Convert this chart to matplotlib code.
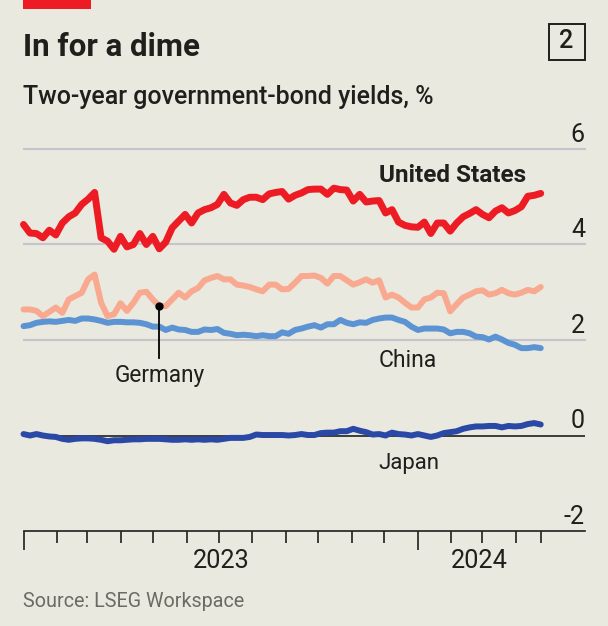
import pandas as pd
import matplotlib.pyplot as plt
import matplotlib.dates as mdates
from matplotlib.patches import Rectangle

# Yields, 81 evenly spaced points
dates = pd.date_range("2023-01-01", "2024-04-24", periods=81)
united_states = [
    4.42, 4.24, 4.23, 4.14, 4.30, 4.20, 4.45, 4.58, 4.66, 4.84,
    4.95, 5.09, 4.14, 4.07, 3.90, 4.17, 3.95, 4.00, 4.23, 4.00,
    4.17, 3.91, 4.05, 4.35, 4.49, 4.63, 4.45, 4.66, 4.73, 4.77,
    4.84, 5.05, 4.87, 4.82, 4.94, 4.99, 4.99, 4.94, 5.06, 5.09,
    5.11, 4.95, 5.03, 5.08, 5.15, 5.16, 5.16, 5.05, 5.18, 5.15,
    5.14, 4.91, 5.05, 4.89, 4.91, 4.92, 4.66, 4.73, 4.47, 4.40,
    4.37, 4.36, 4.47, 4.23, 4.45, 4.45, 4.28, 4.45, 4.58, 4.65,
    4.73, 4.63, 4.56, 4.70, 4.77, 4.66, 4.71, 4.79, 5.01, 5.03,
    5.07,
]
germany = [
    2.64, 2.64, 2.61, 2.50, 2.59, 2.68, 2.57, 2.85, 2.92, 2.99,
    3.27, 3.37, 2.78, 2.50, 2.54, 2.77, 2.61, 2.78, 2.99, 3.01,
    2.85, 2.71, 2.71, 2.85, 2.99, 2.89, 3.02, 3.09, 3.25, 3.30,
    3.34, 3.27, 3.27, 3.16, 3.14, 3.11, 3.06, 3.02, 3.16, 3.16,
    3.06, 3.07, 3.20, 3.34, 3.34, 3.35, 3.30, 3.18, 3.34, 3.34,
    3.25, 3.16, 3.21, 3.27, 3.20, 3.25, 2.89, 2.95, 2.89, 2.78,
    2.68, 2.68, 2.85, 2.89, 2.99, 2.98, 2.60, 2.75, 2.89, 2.95,
    3.02, 3.04, 2.95, 2.98, 3.05, 2.98, 2.95, 2.99, 3.05, 3.02,
    3.11,
]
china = [
    2.29, 2.31, 2.36, 2.38, 2.39, 2.38, 2.40, 2.42, 2.40, 2.45,
    2.45, 2.43, 2.40, 2.36, 2.38, 2.38, 2.37, 2.37, 2.36, 2.33,
    2.28, 2.28, 2.21, 2.26, 2.22, 2.21, 2.17, 2.17, 2.22, 2.21,
    2.23, 2.15, 2.13, 2.10, 2.11, 2.10, 2.08, 2.10, 2.08, 2.08,
    2.16, 2.13, 2.21, 2.24, 2.28, 2.31, 2.26, 2.33, 2.33, 2.42,
    2.36, 2.33, 2.37, 2.36, 2.42, 2.45, 2.47, 2.47, 2.42, 2.38,
    2.28, 2.21, 2.24, 2.24, 2.24, 2.22, 2.14, 2.17, 2.17, 2.14,
    2.07, 2.06, 2.01, 2.07, 2.01, 1.94, 1.90, 1.83, 1.83, 1.85,
    1.83,
]
japan = [
    0.03, 0.00, 0.03, 0.00, -0.02, -0.03, -0.07, -0.09, -0.07, -0.06,
    -0.06, -0.07, -0.09, -0.12, -0.10, -0.10, -0.09, -0.08, -0.08, -0.07,
    -0.07, -0.07, -0.08, -0.09, -0.09, -0.08, -0.09, -0.08, -0.09, -0.08,
    -0.09, -0.07, -0.05, -0.05, -0.05, -0.03, 0.02, 0.01, 0.01, 0.01,
    0.01, 0.00, 0.01, 0.03, 0.01, 0.01, 0.05, 0.06, 0.06, 0.09,
    0.09, 0.14, 0.10, 0.07, 0.02, 0.03, 0.00, 0.06, 0.03, 0.02,
    0.00, 0.03, 0.00, -0.03, 0.00, 0.05, 0.07, 0.09, 0.14, 0.17,
    0.19, 0.19, 0.20, 0.20, 0.17, 0.20, 0.19, 0.20, 0.24, 0.26,
    0.23,
]
y_ticks = [6, 4, 2, 0, -2]
germany_pointer = 21

W, H = 608, 626
BG = "#e9e9df"
INK = "#1f1f1c"

plt.rcParams["font.family"] = ["Roboto", "DejaVu Sans"]

fig = plt.figure(figsize=(W / 100, H / 100), dpi=100, facecolor=BG)


def fx(px):
    return px / W


def fy(px):
    return 1 - px / H


# Plot area: from x=23.5 to 585 and y=149 (6) to y=531 (-2)
ax = fig.add_axes([fx(23.5), fy(531), fx(585 - 23.5), (531 - 149) / H])
ax.set_facecolor("none")
ax.set_xlim(pd.Timestamp("2023-01-01"), pd.Timestamp("2023-01-01") + pd.Timedelta(days=520))
ax.set_ylim(-2, 6)

for v in y_ticks:
    if v > 0:
        ax.axhline(v, color="#c3c4cc", linewidth=1.5, zorder=1, clip_on=False)
    elif v == 0:
        ax.axhline(v, color=INK, linewidth=1.2, zorder=1)
    ax.annotate(str(v), (1, v), xycoords=("axes fraction", "data"), xytext=(0, 1.5),
                textcoords="offset points", ha="right", va="bottom",
                fontsize=18, color=INK)

# Lines
ax.plot(dates, china, color="#5b93d3", linewidth=4.3, solid_capstyle="round", zorder=3, clip_on=False)
ax.plot(dates, germany, color="#f8a98f", linewidth=4.3, solid_capstyle="round", zorder=4, clip_on=False)
ax.plot(dates, japan, color="#2a48a5", linewidth=4.3, solid_capstyle="round", zorder=3, clip_on=False)
ax.plot(dates, united_states, color="#ed1c24", linewidth=5, solid_capstyle="round", zorder=5, clip_on=False)

# Germany pointer
ax.plot([dates[germany_pointer]] * 2, [germany[germany_pointer], 1.63], color="black", linewidth=1.3, zorder=6)
ax.plot(dates[germany_pointer], germany[germany_pointer], "o", color="black", markersize=5, zorder=7)

# Series labels
ax.text(dates[germany_pointer], 1.26, "Germany", ha="center", va="center", fontsize=16.3, color=INK)
ax.text(pd.Timestamp("2023-11-26"), 1.57, "China", ha="left", va="center", fontsize=16.5, color=INK)
ax.text(pd.Timestamp("2023-11-26"), -0.58, "Japan", ha="left", va="center", fontsize=16, color=INK)
ax.text(pd.Timestamp("2023-11-26"), 5.45, "United States", ha="left", va="center",
        fontsize=17.5, fontweight="bold", color=INK)

# Axis
for side in ["top", "left", "right"]:
    ax.spines[side].set_visible(False)
ax.spines["bottom"].set_color(INK)
ax.spines["bottom"].set_linewidth(1.2)
ax.set_yticks([])
ax.xaxis.set_major_locator(mdates.YearLocator())
ax.xaxis.set_major_formatter(plt.NullFormatter())
ax.set_xticks(list(pd.date_range("2023-02-01", "2023-12-01", freq="MS"))
              + list(pd.date_range("2024-02-01", "2024-04-01", freq="MS"))
              + [pd.Timestamp("2024-04-24")], minor=True)
ax.tick_params(axis="x", which="major", length=13.5, width=1.2, color=INK)
ax.tick_params(axis="x", which="minor", length=8.5, width=1.2, color=INK)
ax.text(pd.Timestamp("2023-07-03"), -2.62, "2023", ha="center", va="center", fontsize=18.2, color=INK)
ax.text(pd.Timestamp("2024-02-27"), -2.62, "2024", ha="center", va="center", fontsize=18.2, color=INK)

# Header
fig.patches.append(Rectangle((fx(23), fy(9)), fx(68), 9 / H, transform=fig.transFigure,
                             facecolor="#ed1c24", edgecolor="none"))
fig.patches.append(Rectangle((fx(548.5), fy(59.5)), fx(36), 36 / H, transform=fig.transFigure,
                             facecolor="none", edgecolor=INK, linewidth=1.4))
fig.text(fx(566.5), fy(41.5), "2", ha="center", va="center", fontsize=18, fontweight="medium", color=INK)
fig.text(fx(23), fy(56), "In for a dime", ha="left", va="baseline", fontsize=22.5,
         fontweight="bold", color=INK)
fig.text(fx(23), fy(104), "Two-year government-bond yields, %", ha="left", va="baseline",
         fontsize=18, fontweight="medium", color=INK)
fig.text(fx(23), fy(607), "Source: LSEG Workspace", ha="left", va="baseline", fontsize=14.2, color="#6b6b63")

fig.savefig("out.png", dpi=100, facecolor=BG)
plt.close()
